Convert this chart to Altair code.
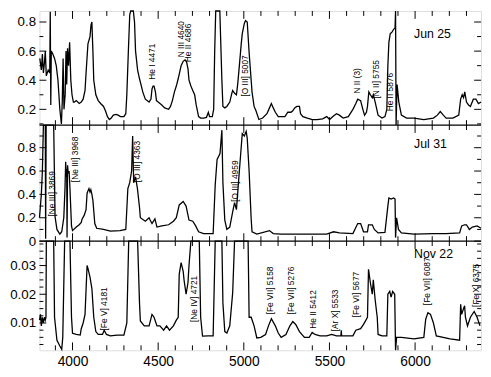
import altair as alt
import pandas as pd

# ---------------- spectra (wavelength in Angstrom, flux) ----------------
jun_w = [3809, 3818, 3824, 3830, 3836, 3841, 3847, 3858, 3867, 3870, 3873, 3876, 3885, 3895, 3905, 3915,
         3926, 3935, 3940, 3945, 3950, 3957, 3962, 3966, 3971, 3977, 3983, 3990, 3997, 4005, 4011, 4022,
         4039, 4051, 4062, 4073, 4079, 4090, 4102, 4108, 4113, 4119, 4124, 4136, 4150, 4164, 4181, 4192,
         4204, 4215, 4226, 4238, 4255, 4266, 4280, 4300, 4311, 4317, 4326, 4334, 4340, 4355, 4362, 4368,
         4380, 4391, 4402, 4410, 4425, 4447, 4458, 4464, 4470, 4476, 4484, 4490, 4500, 4521, 4538, 4561,
         4572, 4583, 4595, 4606, 4617, 4634, 4646, 4657, 4665, 4674, 4680, 4691, 4702, 4713, 4722, 4736,
         4748, 4765, 4782, 4793, 4800, 4816, 4824, 4830, 4836, 4860, 4872, 4878, 4889, 4901, 4918, 4930,
         4935, 4946, 4957, 4965, 4974, 4985, 4991, 5003, 5010, 5020, 5031, 5043, 5048, 5060, 5071, 5088,
         5110, 5135, 5150, 5161, 5172, 5184, 5201, 5220, 5240, 5257, 5275, 5286, 5297, 5310, 5325, 5331,
         5345, 5371, 5400, 5428, 5460, 5484, 5501, 5520, 5541, 5558, 5580, 5610, 5637, 5654, 5665, 5682,
         5695, 5705, 5716, 5722, 5730, 5739, 5750, 5756, 5767, 5784, 5807, 5824, 5835, 5841, 5847, 5855,
         5865, 5875, 5883, 5886, 5889, 5895, 5905, 5920, 5950, 5994, 6051, 6107, 6130, 6147, 6165, 6181,
         6221, 6255, 6266, 6275, 6283, 6290, 6300, 6312, 6323, 6340, 6355, 6370, 6385]
jun_f = [0.55, 0.47, 0.58, 0.45, 0.52, 0.60, 0.43, 0.47, 0.45, 0.87, 0.23, 0.60, 0.58, 0.55, 0.50, 0.40,
         0.20, 0.10, 0.25, 0.55, 0.20, 0.30, 0.60, 0.37, 0.62, 0.50, 0.66, 0.40, 0.30, 0.25, 0.25, 0.26,
         0.24, 0.25, 0.27, 0.33, 0.45, 0.65, 0.70, 0.78, 0.80, 0.60, 0.40, 0.30, 0.26, 0.24, 0.22, 0.19,
         0.15, 0.13, 0.14, 0.16, 0.165, 0.16, 0.15, 0.15, 0.17, 0.30, 0.60, 0.85, 1.20, 1.20, 0.80, 0.60,
         0.47, 0.41, 0.36, 0.32, 0.27, 0.25, 0.27, 0.34, 0.36, 0.36, 0.32, 0.26, 0.25, 0.23, 0.21, 0.20,
         0.22, 0.26, 0.32, 0.36, 0.41, 0.50, 0.53, 0.54, 0.53, 0.48, 0.40, 0.36, 0.33, 0.30, 0.23, 0.15,
         0.14, 0.14, 0.145, 0.18, 0.15, 0.15, 0.20, 0.60, 1.20, 1.20, 0.40, 0.22, 0.21, 0.22, 0.25, 0.31,
         0.33, 0.31, 0.30, 0.38, 0.50, 0.65, 0.72, 0.79, 0.81, 0.80, 0.59, 0.40, 0.32, 0.22, 0.19, 0.13,
         0.14, 0.17, 0.21, 0.24, 0.21, 0.18, 0.15, 0.15, 0.15, 0.18, 0.18, 0.19, 0.21, 0.22, 0.22, 0.17,
         0.15, 0.14, 0.13, 0.13, 0.135, 0.15, 0.13, 0.15, 0.17, 0.16, 0.14, 0.15, 0.20, 0.24, 0.27, 0.26,
         0.20, 0.16, 0.18, 0.22, 0.32, 0.30, 0.28, 0.30, 0.25, 0.16, 0.14, 0.15, 0.20, 0.50, 0.66, 0.72,
         0.73, 0.75, 0.76, 1.20, 0.09, 0.37, 0.25, 0.16, 0.14, 0.14, 0.13, 0.14, 0.16, 0.185, 0.16, 0.14,
         0.14, 0.16, 0.27, 0.30, 0.28, 0.32, 0.25, 0.23, 0.22, 0.27, 0.27, 0.24, 0.25]

jul_w = [3807, 3818, 3824, 3830, 3841, 3843, 3846, 3890, 3898, 3909, 3926, 3937, 3949, 3956, 3960, 3963,
         3966, 3968, 3971, 3975, 3980, 3985, 3994, 4000, 4022, 4039, 4051, 4056, 4068, 4079, 4085, 4090,
         4096, 4102, 4107, 4113, 4119, 4130, 4141, 4181, 4221, 4277, 4311, 4323, 4334, 4345, 4351, 4357,
         4368, 4379, 4391, 4396, 4425, 4447, 4453, 4464, 4481, 4493, 4521, 4561, 4589, 4606, 4623, 4646,
         4663, 4680, 4702, 4719, 4736, 4765, 4821, 4833, 4844, 4861, 4872, 4878, 4889, 4901, 4918, 4935,
         4946, 4957, 4974, 4991, 5003, 5014, 5020, 5031, 5043, 5048, 5076, 5150, 5172, 5218, 5354, 5484,
         5524, 5558, 5637, 5665, 5682, 5699, 5722, 5728, 5750, 5762, 5784, 5824, 5841, 5847, 5860, 5875,
         5883, 5886, 5892, 5903, 5920, 5994, 6107, 6181, 6260, 6272, 6289, 6300, 6317, 6334, 6362, 6385]
jul_f = [0.20, 0.40, 0.60, 1.50, 1.50, 0.02, 1.50, 1.50, 0.21, 0.10, 0.06, 0.08, 0.20, 0.45, 0.68, 0.55,
         0.62, 0.03, 0.65, 0.58, 0.60, 0.45, 0.13, 0.09, 0.12, 0.14, 0.16, 0.19, 0.22, 0.27, 0.41, 0.43,
         0.45, 0.42, 0.44, 0.40, 0.35, 0.15, 0.11, 0.10, 0.085, 0.09, 0.10, 0.45, 0.50, 0.60, 0.90, 0.50,
         0.55, 0.45, 0.29, 0.20, 0.17, 0.20, 0.18, 0.15, 0.19, 0.12, 0.13, 0.14, 0.17, 0.20, 0.31, 0.34,
         0.30, 0.18, 0.17, 0.13, 0.08, 0.065, 0.065, 0.48, 0.70, 0.75, 0.95, 0.50, 0.18, 0.10, 0.12, 0.25,
         0.33, 0.27, 0.60, 0.92, 0.90, 0.94, 0.88, 0.60, 0.19, 0.08, 0.06, 0.09, 0.065, 0.06, 0.06, 0.06,
         0.08, 0.07, 0.065, 0.15, 0.15, 0.08, 0.08, 0.14, 0.14, 0.10, 0.07, 0.075, 0.30, 0.37, 0.36, 0.37,
         0.36, 0.03, 0.20, 0.10, 0.07, 0.06, 0.065, 0.065, 0.07, 0.13, 0.14, 0.14, 0.10, 0.12, 0.13, 0.11]

nov_w = [3807, 3813, 3818, 3824, 3830, 3836, 3841, 3845, 3847, 3890, 3895, 3909, 3926, 3937, 3943, 3954,
         3985, 3994, 4000, 4022, 4045, 4051, 4062, 4073, 4085, 4090, 4102, 4113, 4124, 4136, 4150, 4175,
         4185, 4198, 4221, 4260, 4300, 4317, 4328, 4380, 4391, 4396, 4419, 4447, 4464, 4476, 4493, 4510,
         4532, 4549, 4566, 4589, 4606, 4617, 4623, 4634, 4646, 4651, 4663, 4674, 4680, 4691, 4740, 4748,
         4759, 4793, 4821, 4833, 4872, 4878, 4889, 4901, 4918, 4935, 4946, 5025, 5031, 5043, 5060, 5076,
         5099, 5127, 5144, 5161, 5184, 5201, 5218, 5246, 5269, 5286, 5303, 5325, 5354, 5382, 5399, 5416,
         5445, 5484, 5513, 5541, 5567, 5569, 5571, 5597, 5637, 5654, 5682, 5699, 5722, 5728, 5739, 5750,
         5756, 5767, 5779, 5784, 5807, 5835, 5841, 5852, 5860, 5869, 5881, 5886, 5892, 5920, 5994, 6051,
         6062, 6075, 6090, 6107, 6124, 6204, 6260, 6266, 6272, 6277, 6289, 6294, 6306, 6323, 6345, 6362,
         6379]
nov_f = [0.011, 0.013, 0.009, 0.012, 0.010, 0.012, 0.011, 0.012, 0.050, 0.050, 0.012, 0.004, 0.002, 0.0008,
         0.005, 0.050, 0.050, 0.012, 0.0064, 0.006, 0.0058, 0.008, 0.010, 0.013, 0.030, 0.029, 0.026, 0.022,
         0.012, 0.007, 0.006, 0.006, 0.0075, 0.006, 0.0055, 0.0058, 0.0058, 0.010, 0.050, 0.050, 0.017, 0.0107,
         0.009, 0.009, 0.013, 0.012, 0.009, 0.009, 0.0075, 0.009, 0.0075, 0.009, 0.011, 0.012, 0.027, 0.031,
         0.028, 0.025, 0.020, 0.024, 0.030, 0.050, 0.050, 0.012, 0.0054, 0.0055, 0.0055, 0.050, 0.050, 0.017,
         0.007, 0.0065, 0.009, 0.0205, 0.050, 0.050, 0.012, 0.012, 0.009, 0.0048, 0.005, 0.006, 0.009, 0.0115,
         0.009, 0.0065, 0.005, 0.006, 0.009, 0.0105, 0.0095, 0.007, 0.005, 0.005, 0.0067, 0.006, 0.0055, 0.0055,
         0.006, 0.0055, 0.0055, 0.0075, 0.0055, 0.0055, 0.0055, 0.0075, 0.008, 0.0095, 0.012, 0.0287, 0.024,
         0.020, 0.025, 0.018, 0.012, 0.006, 0.0055, 0.0055, 0.020, 0.021, 0.019, 0.021, 0.020, 0.0, 0.005,
         0.005, 0.0045, 0.005, 0.0113, 0.0136, 0.013, 0.010, 0.0055, 0.0045, 0.004, 0.0165, 0.013, 0.014,
         0.016, 0.012, 0.009, 0.012, 0.014, 0.012, 0.009]

# ---------------- line identifications ----------------
jun_labels = ["He I 4471", "N III 4640", "He II 4686", "[O III] 5007", "N II (3)", "[N II] 5755", "He II 5876"]
jun_lab_w = [4467, 4631, 4677, 5005, 5660, 5773, 5855]
jun_lab_f = [0.403, 0.558, 0.524, 0.288, 0.308, 0.274, 0.186]

jul_labels = ["[Ne III] 3869", "[Ne III] 3968", "[O III] 4363", "[O III] 4959"]
jul_lab_w = [3878, 4017, 4376, 4946]
jul_lab_f = [0.21, 0.505, 0.505, 0.337]

nov_labels = ["[Fe V] 4181", "[Ne IV] 4721", "[Fe VII] 5158", "[Fe VII] 5276", "He II 5412",
              "[Ar X] 5533", "[Fe VI] 5677", "[Fe VII] 6087", "[Fe X] 6375"]
nov_lab_w = [4184, 4711, 5153, 5277, 5405, 5530, 5654, 6068, 6354]
nov_lab_f = [0.0074, 0.0103, 0.013, 0.013, 0.008, 0.0071, 0.012, 0.0162, 0.0156]

dates = ["Jun 25", "Jul 31", "Nov 22"]
date_w = [5994, 5994, 5994]
date_f = [0.72, 0.834, 0.0339]

# ---------------- ticks ----------------
x_major = [4000, 4500, 5000, 5500, 6000]
x_minor = [3900, 4100, 4200, 4300, 4400, 4600, 4700, 4800, 4900, 5100, 5200, 5300, 5400,
           5600, 5700, 5800, 5900, 6100, 6200, 6300]
y1_major = [0.2, 0.4, 0.6, 0.8]
y1_minor = [0.1, 0.3, 0.5, 0.7]
y2_major = [0.0, 0.2, 0.4, 0.6, 0.8]
y2_minor = [0.1, 0.3, 0.5, 0.7, 0.9]
y3_major = [0.01, 0.02, 0.03]
y3_minor = [0.0025, 0.005, 0.0075, 0.0125, 0.015, 0.0175, 0.0225, 0.025, 0.0275, 0.0325, 0.035, 0.0375]

# ---------------- layout ----------------
W = 449
E1, E2, H = 116, 234, 345
FONT = "Liberation Sans"

xs = alt.Scale(domain=[3807, 6385], nice=False, zero=False)
xaxis = alt.Axis(values=x_major, format="d", ticks=False, domain=False, grid=False, title=None,
                 labelFont=FONT, labelFontSize=14, labelColor="black", labelPadding=4)

y1s = alt.Scale(domain=[0.0919, 0.8757], range=[E1, 0], clamp=True, nice=False, zero=False)
y2s = alt.Scale(domain=[0.0, 0.9937], range=[E2, E1], clamp=True, nice=False, zero=False)
y3s = alt.Scale(domain=[0.0005, 0.0385], range=[H, E2], clamp=True, nice=False, zero=False)


def yaxis(vals, expr):
    return alt.Axis(values=vals, orient="left", ticks=False, domain=False, grid=False, title=None,
                    labelFont=FONT, labelFontSize=13.5, labelColor="black", labelPadding=4,
                    labelExpr=expr, labelOverlap=False)


def spectrum(w, f, ys, axis):
    df = pd.DataFrame({"w": w, "f": f})
    return alt.Chart(df).mark_line(color="black", strokeWidth=1.3).encode(
        x=alt.X("w:Q", scale=xs, axis=xaxis),
        y=alt.Y("f:Q", scale=ys, axis=axis),
    )


def labels(txt, w, f, ys, size=8.5, angle=270):
    df = pd.DataFrame({"t": txt, "w": w, "f": f})
    if angle:
        mk = alt.Chart(df).mark_text(angle=angle, align="left", baseline="middle",
                                     font=FONT, fontSize=size, color="black")
    else:
        mk = alt.Chart(df).mark_text(align="left", baseline="middle", font=FONT,
                                     fontSize=size, color="black")
    return mk.encode(x=alt.X("w:Q", scale=xs, axis=xaxis),
                     y=alt.Y("f:Q", scale=ys, axis=None), text="t:N")


layers = [
    spectrum(jun_w, jun_f, y1s, yaxis(y1_major, "format(datum.value, '.1f')")),
    spectrum(jul_w, jul_f, y2s, yaxis(y2_major,
             "datum.value == 0 ? '0' : format(datum.value, '.1f')")),
    spectrum(nov_w, nov_f, y3s, yaxis(y3_major, "format(datum.value, '.2f')")),
    labels(jun_labels, jun_lab_w, jun_lab_f, y1s),
    labels(jul_labels, jul_lab_w, jul_lab_f, y2s),
    labels(nov_labels, nov_lab_w, nov_lab_f, y3s),
    labels([dates[0]], [date_w[0]], [date_f[0]], y1s, size=12.5, angle=0),
    labels([dates[1]], [date_w[1]], [date_f[1]], y2s, size=12.5, angle=0),
    labels([dates[2]], [date_w[2]], [date_f[2]], y3s, size=12.5, angle=0),
]

# x ticks (inward) on every panel edge
tick_df_major = pd.DataFrame({"w": x_major})
tick_df_minor = pd.DataFrame({"w": x_minor})
for df, ln in ((tick_df_major, 8), (tick_df_minor, 5)):
    for edge, dirs in ((0, (1,)), (E1, (-1, 1)), (E2, (-1, 1)), (H, (-1,))):
        for d in dirs:
            layers.append(alt.Chart(df).mark_rule(color="black", strokeWidth=1).encode(
                x=alt.X("w:Q", scale=xs, axis=xaxis),
                y=alt.value(edge), y2=alt.value(edge + d * ln)))

# y ticks (inward) on left and right of each panel
for ys, maj, mnr in ((y1s, y1_major, y1_minor), (y2s, y2_major, y2_minor), (y3s, y3_major, y3_minor)):
    for vals, ln in ((maj, 7), (mnr, 4)):
        df = pd.DataFrame({"v": vals})
        for x0, x1 in ((0, ln), (W, W - ln)):
            layers.append(alt.Chart(df).mark_rule(color="black", strokeWidth=1).encode(
                y=alt.Y("v:Q", scale=ys, axis=None),
                x=alt.value(x0), x2=alt.value(x1)))

# panel separators
for edge in (E1, E2):
    layers.append(alt.Chart(pd.DataFrame({"a": [0]})).mark_rule(color="black", strokeWidth=1.4).encode(
        x=alt.value(0), x2=alt.value(W), y=alt.value(edge)))

chart = alt.layer(*layers).resolve_scale(y="independent").properties(
    width=W, height=H,
    padding={"left": 32, "top": 0, "right": 2, "bottom": 16},
    autosize=alt.AutoSizeParams(type="none"),
).configure_view(stroke="black", strokeWidth=1.4).configure(background="white")

chart.save("out.html", embed_options={"renderer": "svg", "actions": False})
